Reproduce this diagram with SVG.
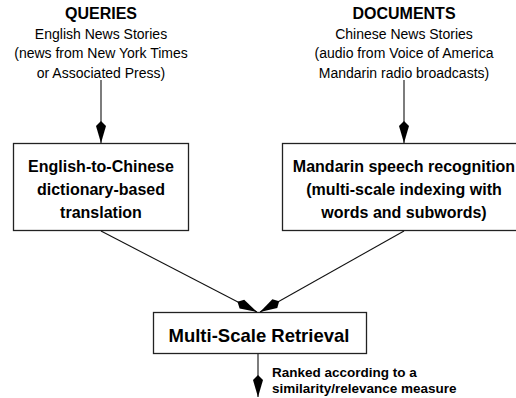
<svg xmlns="http://www.w3.org/2000/svg" width="516" height="398" viewBox="0 0 516 398">
<defs>
<style>
.t{font-family:"Liberation Sans",Arial,sans-serif;fill:#000;text-anchor:middle}
.h{font-weight:bold;font-size:16px}
.r{font-size:14px}
.b{font-weight:bold;font-size:16px}
.box{fill:#fff;stroke:#222;stroke-width:1.3}
.c{stroke:#111;stroke-width:1.1;fill:none}
</style>
<marker id="kite" viewBox="-23 -6 24 12" refX="0" refY="0" markerWidth="24" markerHeight="12" markerUnits="userSpaceOnUse" orient="auto">
<path d="M0,0 L-17,-5 L-22,0 L-17,5 Z" fill="#000"/>
</marker>
</defs>
<rect width="516" height="398" fill="#fff"/>
<g id="queries">
<text class="t h" x="101" y="19">QUERIES</text>
<text class="t r" x="101" y="39">English News Stories</text>
<text class="t r" x="101" y="58">(news from New York Times</text>
<text class="t r" x="101" y="78">or Associated Press)</text>
</g>
<g id="documents">
<text class="t h" x="404" y="19">DOCUMENTS</text>
<text class="t r" x="404" y="39">Chinese News Stories</text>
<text class="t r" x="404" y="58">(audio from Voice of America</text>
<text class="t r" x="404" y="78">Mandarin radio broadcasts)</text>
</g>
<g id="translation">
<rect class="box" x="13.5" y="143.5" width="175" height="87"/>
<text class="t b" x="101" y="172">English-to-Chinese</text>
<text class="t b" x="101" y="195">dictionary-based</text>
<text class="t b" x="101" y="218">translation</text>
</g>
<g id="recognition">
<rect class="box" x="282.5" y="143.5" width="244" height="87"/>
<text class="t b" x="404" y="172">Mandarin speech recognition</text>
<text class="t b" x="404" y="195">(multi-scale indexing with</text>
<text class="t b" x="404" y="218">words and subwords)</text>
</g>
<g id="retrieval">
<rect class="box" x="153.5" y="312.5" width="213" height="41"/>
<text class="t" x="259" y="342" style="font-weight:bold;font-size:18.5px">Multi-Scale Retrieval</text>
</g>
<g id="output-label">
<text class="t" x="272" y="377" style="font-weight:bold;font-size:13.5px;text-anchor:start">Ranked according to a</text>
<text class="t" x="272" y="393" style="font-weight:bold;font-size:13.5px;text-anchor:start">similarity/relevance measure</text>
</g>
<g id="connectors">
<line class="c" x1="101" y1="80" x2="101" y2="143" marker-end="url(#kite)"/>
<line class="c" x1="404" y1="80" x2="404" y2="143" marker-end="url(#kite)"/>
<line class="c" x1="101" y1="231" x2="257" y2="312" marker-end="url(#kite)"/>
<line class="c" x1="404" y1="231" x2="260" y2="312" marker-end="url(#kite)"/>
<line class="c" x1="258" y1="354" x2="258" y2="397" marker-end="url(#kite)"/>
</g>
</svg>
